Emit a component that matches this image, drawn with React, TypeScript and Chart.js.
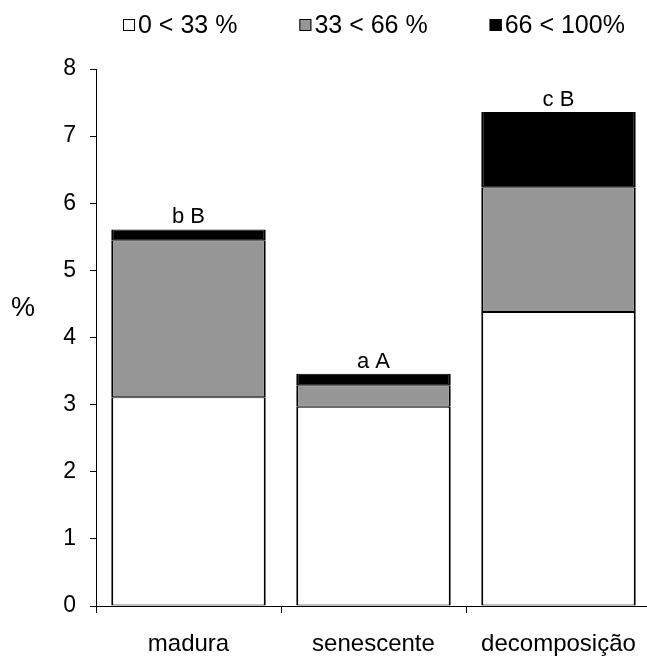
import React, { useEffect, useRef } from "react";
import { Chart, registerables } from "chart.js";

Chart.register(...registerables);

const categories = ["madura", "senescente", "decomposição"];
const seriesLabels = ["0 < 33 %", "33 < 66 %", "66 < 100%"];
const lowValues = [3.11, 2.97, 4.38];
const midValues = [2.34, 0.32, 1.86];
const highValues = [0.16, 0.17, 1.12];
const groupLabels = ["b B", "a A", "c B"];
const yTicks = [0, 1, 2, 3, 4, 5, 6, 7, 8];
const yTitle = "%";

const FONT = '"Liberation Sans", Arial, sans-serif';

const refLegend = {
  id: "refLegend",
  afterDraw(chart: any) {
    const ctx = chart.ctx;
    ctx.save();
    ctx.font = `25px ${FONT}`;
    ctx.textBaseline = "middle";
    ctx.textAlign = "left";
    let x = 123;
    const y = 25;
    chart.data.datasets.forEach((ds: any) => {
      ctx.fillStyle = ds.backgroundColor;
      ctx.fillRect(x, y - 6, 12, 12);
      ctx.strokeStyle = "#000";
      ctx.lineWidth = 1;
      ctx.strokeRect(x + 0.5, y - 5.5, 11, 11);
      ctx.fillStyle = "#000";
      ctx.fillText(ds.label, x + 15, y + 1);
      x += 15 + ctx.measureText(ds.label).width + 62;
    });
    ctx.restore();
  },
};

const extraText = {
  id: "extraText",
  afterDatasetsDraw(chart: any) {
    const ctx = chart.ctx;
    const area = chart.chartArea;
    ctx.save();
    ctx.fillStyle = "#000";
    ctx.font = `27px ${FONT}`;
    ctx.textAlign = "center";
    ctx.textBaseline = "middle";
    ctx.fillText(yTitle, area.left - 73, 309);
    const lastMeta = chart.getDatasetMeta(chart.data.datasets.length - 1);
    ctx.font = `22px ${FONT}`;
    ctx.textBaseline = "alphabetic";
    lastMeta.data.forEach((bar: any, i: number) => {
      ctx.fillText(groupLabels[i], bar.x, bar.y - 6);
    });
    ctx.restore();
  },
};

export default function App() {
  const ref = useRef<HTMLCanvasElement>(null);
  useEffect(() => {
    if (!ref.current) return;
    const common = {
      borderColor: "#000",
      borderWidth: { left: 2, right: 2, top: 1, bottom: 1 },
      borderSkipped: false,
      barPercentage: 0.835,
      categoryPercentage: 1.0,
    };
    const chart = new Chart(ref.current, {
      type: "bar",
      data: {
        labels: categories,
        datasets: [
          { label: seriesLabels[0], data: lowValues, backgroundColor: "#ffffff", ...common },
          { label: seriesLabels[1], data: midValues, backgroundColor: "#969696", ...common },
          { label: seriesLabels[2], data: highValues, backgroundColor: "#000000", ...common },
        ],
      },
      options: {
        animation: false,
        responsive: false,
        devicePixelRatio: 1,
        layout: { padding: { left: 0, right: 14, top: 69, bottom: 0 } },
        plugins: {
          legend: { display: false },
          tooltip: { enabled: false },
        },
        scales: {
          x: {
            stacked: true,
            grid: {
              display: true,
              drawOnChartArea: false,
              offset: true,
              tickLength: 7,
              color: "#000",
              lineWidth: 1,
            },
            border: { color: "#000", width: 1 },
            ticks: {
              color: "#000",
              font: { family: FONT, size: 24 },
              padding: 17,
              maxRotation: 0,
              autoSkip: false,
            },
            afterFit: (s: any) => {
              s.height = 50;
            },
          },
          y: {
            stacked: true,
            min: 0,
            max: 8,
            afterBuildTicks: (s: any) => {
              s.ticks = yTicks.map((v) => ({ value: v }));
            },
            grid: {
              display: true,
              drawOnChartArea: false,
              tickLength: 6,
              color: "#000",
              lineWidth: 1,
            },
            border: { color: "#000", width: 1 },
            ticks: {
              color: "#000",
              font: { family: FONT, size: 23 },
              padding: 14,
            },
            afterFit: (s: any) => {
              s.width = 96;
            },
          },
        },
      },
      plugins: [refLegend, extraText],
    });
    return () => chart.destroy();
  }, []);
  return (
    <canvas
      ref={ref}
      width={665}
      height={656}
      style={{ position: "fixed", left: 0, top: 0, display: "block" }}
    />
  );
}
